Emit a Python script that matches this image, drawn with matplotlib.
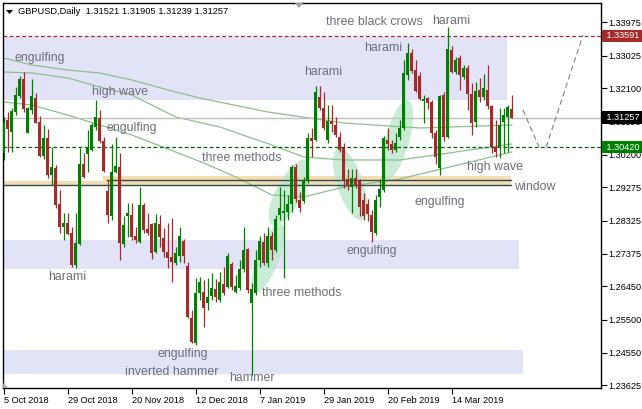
import numpy as np
import matplotlib.pyplot as plt
from matplotlib.patches import Rectangle, Polygon
from matplotlib.transforms import blended_transform_factory

plt.rcParams['font.family'] = ['Liberation Sans', 'DejaVu Sans']

# daily GBPUSD candles (bar 0 = 5 Oct 2018)
opens = [1.3024, 1.3119, 1.3086, 1.3143, 1.3188, 1.3235, 1.3083, 1.3148, 1.3181, 1.3115,
         1.3017, 1.3067, 1.2962, 1.2981, 1.2880, 1.2815, 1.2826, 1.2798, 1.2706, 1.2766,
         1.2994, 1.3022, 1.3034, 1.3098, 1.3124, 1.3060, 1.2917, 1.2844, 1.2972, 1.2986,
         1.2766, 1.2845, 1.2848, 1.2788, 1.2772, 1.2877, 1.2807, 1.2823, 1.2744, 1.2823,
         1.2782, 1.2744, 1.2729, 1.2710, 1.2731, 1.2775, 1.2703, 1.2554, 1.2482, 1.2625,
         1.2630, 1.2598, 1.2617, 1.2636, 1.2606, 1.2652, 1.2642, 1.2708, 1.2630, 1.2639,
         1.2693, 1.2750, 1.2598, 1.2625, 1.2720, 1.2772, 1.2711, 1.2788, 1.2748, 1.2848,
         1.2855, 1.2858, 1.2880, 1.2984, 1.2891, 1.2889, 1.2948, 1.3067, 1.3062, 1.3186,
         1.3153, 1.3062, 1.3117, 1.3105, 1.3072, 1.3039, 1.2950, 1.2929, 1.2953, 1.2945,
         1.2890, 1.2880, 1.2848, 1.2798, 1.2900, 1.2920, 1.3062, 1.3051, 1.3034, 1.3072,
         1.3096, 1.3248, 1.3310, 1.3262, 1.3245, 1.3174, 1.3181, 1.3172, 1.3081, 1.2982,
         1.3191, 1.3072, 1.3319, 1.3257, 1.3295, 1.3243, 1.3267, 1.3193, 1.3115, 1.3205,
         1.3186, 1.3205, 1.3159, 1.3043, 1.3038, 1.3115, 1.3129, 1.31521]
highs = [1.3129, 1.3143, 1.3153, 1.3214, 1.3245, 1.3257, 1.3157, 1.3235, 1.3195, 1.3131,
         1.3105, 1.3093, 1.3043, 1.2991, 1.2920, 1.2853, 1.2853, 1.2815, 1.2853, 1.3039,
         1.3024, 1.3091, 1.3110, 1.3176, 1.3148, 1.3072, 1.2948, 1.3051, 1.3072, 1.3024,
         1.2844, 1.2882, 1.2882, 1.2815, 1.2929, 1.2882, 1.2853, 1.2825, 1.2851, 1.2848,
         1.2810, 1.2825, 1.2839, 1.2758, 1.2815, 1.2779, 1.2715, 1.2577, 1.2668, 1.2672,
         1.2663, 1.2668, 1.2682, 1.2665, 1.2687, 1.2701, 1.2739, 1.2715, 1.2677, 1.2720,
         1.2815, 1.2753, 1.2653, 1.2749, 1.2787, 1.2796, 1.2815, 1.2801, 1.2848, 1.2929,
         1.2920, 1.2905, 1.2991, 1.2994, 1.2915, 1.2958, 1.3081, 1.3096, 1.3216, 1.3216,
         1.3200, 1.3162, 1.3162, 1.3129, 1.3086, 1.3053, 1.2979, 1.2979, 1.2979, 1.2950,
         1.2910, 1.2895, 1.2863, 1.2905, 1.2950, 1.3075, 1.3096, 1.3062, 1.3081, 1.3119,
         1.3290, 1.3340, 1.3321, 1.3291, 1.3257, 1.3191, 1.3185, 1.3176, 1.3090, 1.3191,
         1.3200, 1.3384, 1.3329, 1.3300, 1.3305, 1.3275, 1.3277, 1.3224, 1.3229, 1.3240,
         1.3250, 1.3275, 1.3162, 1.3119, 1.3153, 1.3153, 1.3162, 1.31905]
lows = [1.3005, 1.3029, 1.3029, 1.3134, 1.3181, 1.3143, 1.3081, 1.3136, 1.3110, 1.3015,
        1.3007, 1.2953, 1.2934, 1.2867, 1.2796, 1.2777, 1.2791, 1.2701, 1.2696, 1.2763,
        1.2953, 1.2972, 1.3032, 1.3091, 1.3053, 1.2972, 1.2826, 1.2834, 1.2967, 1.2720,
        1.2758, 1.2786, 1.2777, 1.2767, 1.2767, 1.2796, 1.2791, 1.2722, 1.2739, 1.2758,
        1.2729, 1.2696, 1.2658, 1.2706, 1.2715, 1.2710, 1.2554, 1.2482, 1.2477, 1.2606,
        1.2530, 1.2577, 1.2606, 1.2601, 1.2601, 1.2620, 1.2639, 1.2634, 1.2625, 1.2634,
        1.2687, 1.2625, 1.2392, 1.2620, 1.2701, 1.2706, 1.2701, 1.2720, 1.2744, 1.2834,
        1.2668, 1.2834, 1.2858, 1.2886, 1.2858, 1.2882, 1.2939, 1.3015, 1.3058, 1.3148,
        1.3091, 1.3053, 1.3086, 1.3070, 1.3029, 1.2924, 1.2921, 1.2853, 1.2924, 1.2845,
        1.2835, 1.2830, 1.2772, 1.2791, 1.2870, 1.2915, 1.3034, 1.3024, 1.3029, 1.3062,
        1.3091, 1.3233, 1.3252, 1.3200, 1.3176, 1.3110, 1.3150, 1.3067, 1.2995, 1.2962,
        1.3060, 1.3067, 1.3252, 1.3250, 1.3205, 1.3235, 1.3148, 1.3077, 1.3100, 1.3170,
        1.3175, 1.3150, 1.3024, 1.3015, 1.3010, 1.3024, 1.3029, 1.31239]
closes = [1.3115, 1.3093, 1.3146, 1.3191, 1.3235, 1.3151, 1.3153, 1.3188, 1.3112, 1.3017,
          1.3067, 1.2962, 1.2986, 1.2877, 1.2815, 1.2825, 1.2794, 1.2706, 1.2769, 1.2994,
          1.2956, 1.3043, 1.3105, 1.3127, 1.3060, 1.2975, 1.2848, 1.2972, 1.2988, 1.2769,
          1.2820, 1.2853, 1.2785, 1.2777, 1.2877, 1.2805, 1.2796, 1.2741, 1.2825, 1.2785,
          1.2744, 1.2725, 1.2715, 1.2739, 1.2787, 1.2731, 1.2556, 1.2487, 1.2625, 1.2658,
          1.2584, 1.2615, 1.2639, 1.2615, 1.2658, 1.2625, 1.2731, 1.2642, 1.2646, 1.2693,
          1.2748, 1.2634, 1.2636, 1.2720, 1.2775, 1.2711, 1.2788, 1.2748, 1.2836, 1.2867,
          1.2860, 1.2880, 1.2984, 1.2893, 1.2867, 1.2948, 1.3067, 1.3060, 1.3200, 1.3153,
          1.3096, 1.3117, 1.3108, 1.3077, 1.3034, 1.2948, 1.2931, 1.2953, 1.2934, 1.2870,
          1.2845, 1.2850, 1.2801, 1.2890, 1.2922, 1.3067, 1.3051, 1.3034, 1.3055, 1.3096,
          1.3252, 1.3311, 1.3258, 1.3203, 1.3178, 1.3179, 1.3169, 1.3081, 1.3013, 1.3188,
          1.3072, 1.3321, 1.3257, 1.3290, 1.3248, 1.3267, 1.3193, 1.3110, 1.3203, 1.3186,
          1.3210, 1.3159, 1.3043, 1.3029, 1.3105, 1.3134, 1.3155, 1.31257]

date_ticks = [0, 16, 32, 48, 64, 80, 96, 112]
date_labels = ['5 Oct 2018', '29 Oct 2018', '20 Nov 2018', '12 Dec 2018',
               '7 Jan 2019', '29 Jan 2019', '20 Feb 2019', '14 Mar 2019']
price_ticks = [1.33975, 1.33025, 1.32100, 1.31150, 1.30200, 1.29275,
               1.28325, 1.27375, 1.26450, 1.25500, 1.24550, 1.23625]

# moving averages, sampled off the chart
ma_slow_x = [0, 7, 16, 24, 32, 43, 49, 66, 85, 104, 127]
ma_slow_y = [1.32962, 1.32762, 1.32620, 1.32534, 1.32335, 1.31992, 1.31821,
             1.31422, 1.31108, 1.30965, 1.31051]
ma_mid_x = [0, 7, 16, 24, 32, 43, 54, 67, 75, 85, 99, 127]
ma_mid_y = [1.32563, 1.32534, 1.32392, 1.32135, 1.31907, 1.31279, 1.30994,
            1.30480, 1.30137, 1.30052, 1.30052, 1.30509]
ma_fast_x = [0, 7, 16, 24, 32, 43, 50, 58, 67, 75, 85, 99, 127]
ma_fast_y = [1.31707, 1.31621, 1.31336, 1.31051, 1.30766, 1.30280, 1.29967,
             1.29567, 1.29054, 1.28997, 1.29282, 1.29510, 1.30280]

level_red = 1.33591
level_green = 1.30420
last_price = 1.31257

fig = plt.figure(figsize=(6.42, 4.09), dpi=100)
ax = fig.add_axes([2.5 / 642, 21 / 409, 598.5 / 642, 385 / 409])
x0, x1 = -0.3, 149.3
y0, y1 = 1.23547, 1.34531
ax.set_xlim(x0, x1)
ax.set_ylim(y0, y1)
sx = 598.5 / (x1 - x0)
sy = 385 / (y1 - y0)

# zones
lav = '#e3e3f8'
ax.add_patch(Rectangle((-1, 1.31764), 126.8, 0.01806, fc=lav, ec='none', zorder=0.5))
ax.add_patch(Rectangle((-1, 1.26943), 129.8, 0.00827, fc=lav, ec='none', zorder=0.5))
ax.add_patch(Rectangle((-1, 1.23946), 130.8, 0.00685, fc=lav, ec='none', zorder=0.5))
ax.add_patch(Rectangle((-1, 1.29339), 127.8, 0.00124, fc='#f5deb3', ec='none', zorder=0.6))
ax.add_patch(Rectangle((24.8, 1.29339), 102.0, 0.00257, fc='#f5deb3', ec='none', zorder=0.6))
ax.plot([-1, 126.8], [1.29339, 1.29339], color='#2f4f4f', lw=1.0, zorder=1.3)
ax.plot([25.8, 126.8], [1.29482, 1.29482], color='#2f4f4f', lw=1.0, zorder=1.3)


def ellipse(p1, p2, half_w):
    # ellipse drawn in pixel space between two data points
    a = np.array([p1[0] * sx, p1[1] * sy])
    b = np.array([p2[0] * sx, p2[1] * sy])
    c = (a + b) / 2
    u = (b - a) / 2
    v = np.array([-u[1], u[0]]) / np.linalg.norm(u) * half_w
    t = np.linspace(0, 2 * np.pi, 80)
    pts = c + np.outer(np.cos(t), u) + np.outer(np.sin(t), v)
    pts[:, 0] /= sx
    pts[:, 1] /= sy
    ax.add_patch(Polygon(pts, closed=True, fc='#b9e6c9', ec='none', alpha=0.75, zorder=0.7))


ellipse((62.8, 1.26286), (69.3, 1.28226), 11)
ellipse((67.1, 1.28197), (75.6, 1.30052), 13)
ellipse((83.6, 1.30394), (89.6, 1.28340), 13)
ellipse((95.6, 1.29481), (101.1, 1.31764), 12)

# moving averages
ma_col = '#8cc08c'
ax.plot(ma_slow_x, ma_slow_y, color=ma_col, lw=0.9, zorder=1)
ax.plot(ma_mid_x, ma_mid_y, color=ma_col, lw=0.9, zorder=1)
ax.plot(ma_fast_x, ma_fast_y, color=ma_col, lw=0.9, zorder=1)

# levels
ax.axhline(level_red, color='#a52a2a', lw=0.9, ls=(0, (3, 2)), zorder=1.2)
ax.axhline(level_green, color='#006400', lw=0.9, ls=(0, (3, 2)), zorder=1.2)
ax.axhline(last_price, color='#c0c0c0', lw=1.0, zorder=1.1)

# projected path
ax.plot([129.8, 133.8], [1.31479, 1.30423], color='#808080', lw=0.8, ls=(0, (5, 3)), zorder=1.2)
ax.plot([135.6, 144.8], [1.30423, 1.33618], color='#808080', lw=0.8, ls=(0, (5, 3)), zorder=1.2)

# candles
o = np.array(opens)
h = np.array(highs)
l = np.array(lows)
c = np.array(closes)
idx = np.arange(len(o))
cols = np.where(c >= o, '#008000', '#a52a2a')
ax.vlines(idx, l, h, colors=cols, lw=0.9, zorder=2.5)
body = np.maximum(np.abs(c - o), 0.00012)
ax.bar(idx, body, bottom=np.minimum(o, c), width=0.72, color=cols, zorder=3)

# pattern labels
lab = dict(color='#6e6e7e', fontsize=8.9, ha='center', va='center', zorder=4)
ax.text(9.1, 1.32962, 'engulfing', **lab)
ax.text(29.1, 1.31992, 'high wave', **lab)
ax.text(32.1, 1.30965, 'engulfing', **lab)
ax.text(59.6, 1.30109, 'three methods', **lab)
ax.text(79.8, 1.32563, 'harami', **lab)
ax.text(92.6, 1.33989, 'three black crows', **lab)
ax.text(94.8, 1.33247, 'harami', **lab)
ax.text(111.8, 1.34018, 'harami', **lab)
ax.text(122.8, 1.29852, 'high wave', **lab)
ax.text(132.8, 1.29282, 'window', **lab)
ax.text(109.1, 1.28854, 'engulfing', **lab)
ax.text(92.1, 1.27456, 'engulfing', **lab)
ax.text(15.8, 1.26715, 'harami', **lab)
ax.text(74.6, 1.26258, 'three methods', **lab)
ax.text(44.8, 1.24518, 'engulfing', **lab)
ax.text(42.1, 1.24005, 'inverted hammer', **lab)
ax.text(62.1, 1.23834, 'hammer', **lab)

# axes
for s in ax.spines.values():
    s.set_color('black')
    s.set_linewidth(1.0)
ax.yaxis.tick_right()
ax.set_yticks(price_ticks)
ax.set_yticklabels([f'{p:.5f}' for p in price_ticks])
ax.set_xticks(date_ticks)
ax.set_xticklabels(date_labels, ha='left')
ax.tick_params(axis='both', direction='out', length=4, width=0.8, labelsize=6.6, colors='black')
ax.tick_params(axis='y', pad=1.5)
ax.tick_params(axis='x', pad=2)

# price tags on the right scale
tr = blended_transform_factory(ax.transAxes, ax.transData)
for val, fc in [(level_red, '#a52a2a'), (last_price, 'black'), (level_green, '#008000')]:
    ax.text(1.0 + 2.5 / 598.5, val, f' {val:.5f} ', transform=tr, color='white', fontsize=6.6,
            ha='left', va='center', clip_on=False, zorder=5,
            bbox=dict(boxstyle='square,pad=0.2', fc=fc, ec='none'))

# header and small markers
fig.text(18 / 642, 1 - 12 / 409, 'GBPUSD,Daily  1.31521 1.31905 1.31239 1.31257',
         fontsize=6.7, color='black', va='center', ha='left')
fig.patches.append(Polygon([(6 / 642, 1 - 10 / 409), (13 / 642, 1 - 10 / 409), (9.5 / 642, 1 - 14 / 409)],
                           closed=True, fc='black', ec='none', transform=fig.transFigure))
fig.patches.append(Polygon([(295 / 642, 1 - 3 / 409), (303 / 642, 1 - 3 / 409), (299 / 642, 1 - 8 / 409)],
                           closed=True, fc='#a0a0a0', ec='none', transform=fig.transFigure))
fig.patches.append(Polygon([(3 / 642, 1 - 383 / 409), (3 / 642, 1 - 388 / 409), (8 / 642, 1 - 388 / 409)],
                           closed=True, fc='#a0a0a0', ec='none', transform=fig.transFigure))

fig.savefig('out.png', dpi=100)
